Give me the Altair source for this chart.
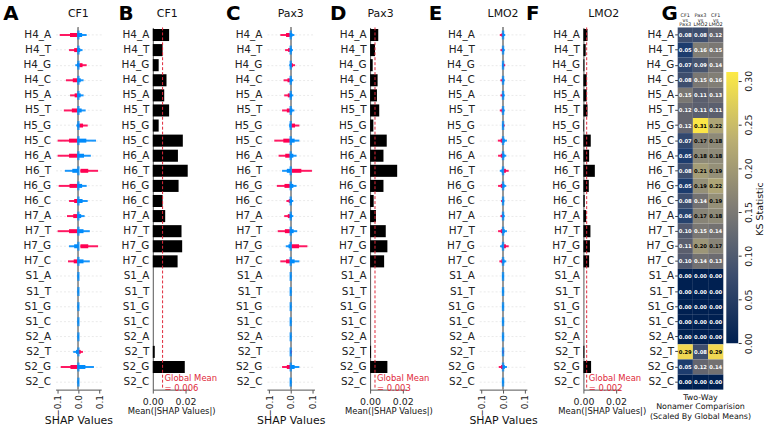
import altair as alt
import pandas as pd

FONT = "DejaVu Sans"
RED = "#ff0052"
BLUE = "#008bfb"
MEANRED = "#e0283a"
H = 365

features = ["H4_A", "H4_T", "H4_G", "H4_C", "H5_A", "H5_T", "H5_G", "H5_C",
             "H6_A", "H6_T", "H6_G", "H6_C", "H7_A", "H7_T", "H7_G", "H7_C",
             "S1_A", "S1_T", "S1_G", "S1_C", "S2_A", "S2_T", "S2_G", "S2_C"]
N = None

# SHAP value extents (red = high feature value, blue = low feature value)
cf1_red_lo = [-0.090, -0.045, 0.005, -0.060, -0.040, -0.070, 0.005, -0.100, -0.100, 0.010, -0.095, -0.045,
              -0.055, -0.100, 0.010, -0.050, N, N, N, N, N, 0.002, -0.085, N]
cf1_red_hi = [-0.005, -0.005, 0.040, -0.005, -0.005, -0.005, 0.045, -0.005, -0.005, 0.095, -0.005, -0.005,
              -0.005, -0.005, 0.095, -0.005, N, N, N, N, N, 0.022, -0.005, N]
cf1_blue_lo = [-0.005, -0.005, -0.015, -0.005, -0.005, -0.005, -0.010, -0.005, -0.005, -0.065, -0.005, -0.005,
               -0.005, -0.005, -0.045, -0.005, -0.003, -0.003, -0.003, -0.003, -0.003, -0.025, -0.005, -0.003]
cf1_blue_hi = [0.040, 0.020, 0.005, 0.025, 0.025, 0.035, 0.005, 0.085, 0.060, 0.000, 0.040, 0.045,
               0.030, 0.055, 0.000, 0.055, 0.003, 0.003, 0.003, 0.003, 0.003, 0.000, 0.075, 0.003]

pax3_red_lo = [-0.048, -0.026, 0.003, -0.033, -0.030, -0.040, 0.003, -0.076, -0.056, 0.006, -0.064, -0.020,
               -0.030, -0.060, 0.004, -0.048, N, N, N, N, N, -0.002, -0.040, N]
pax3_red_hi = [-0.004, -0.004, 0.020, -0.004, -0.004, -0.004, 0.040, -0.004, -0.004, 0.098, -0.004, -0.004,
               -0.004, -0.004, 0.077, -0.004, N, N, N, N, N, 0.006, -0.002, N]
pax3_blue_lo = [-0.004, -0.004, -0.007, -0.004, -0.004, -0.004, -0.006, -0.004, -0.004, -0.040, -0.004, -0.004,
                -0.004, -0.004, -0.023, -0.004, -0.003, -0.003, -0.003, -0.003, -0.003, -0.003, 0.000, -0.003]
pax3_blue_hi = [0.017, 0.010, 0.003, 0.012, 0.012, 0.017, 0.003, 0.040, 0.027, 0.000, 0.027, 0.012,
                0.012, 0.030, 0.000, 0.040, 0.003, 0.003, 0.003, 0.003, 0.003, 0.000, 0.040, 0.003]

lmo2_red_lo = [-0.015, -0.012, 0.002, -0.012, -0.012, -0.015, 0.002, -0.024, -0.023, 0.004, -0.023, -0.009,
               -0.012, -0.023, 0.004, -0.017, N, N, N, N, N, -0.002, -0.020, N]
lmo2_red_hi = [-0.002, -0.002, 0.010, -0.002, -0.002, -0.002, 0.008, -0.002, -0.002, 0.026, -0.002, -0.002,
               -0.002, -0.002, 0.026, -0.002, N, N, N, N, N, 0.004, -0.001, N]
lmo2_blue_lo = [-0.002, -0.002, -0.004, -0.002, -0.002, -0.002, -0.003, -0.002, -0.002, -0.015, -0.002, -0.002,
                -0.002, -0.002, -0.014, -0.002, -0.003, -0.003, -0.003, -0.003, -0.003, -0.002, 0.000, -0.003]
lmo2_blue_hi = [0.010, 0.008, 0.002, 0.008, 0.008, 0.008, 0.002, 0.018, 0.015, 0.000, 0.015, 0.006,
                0.008, 0.018, 0.000, 0.015, 0.003, 0.003, 0.003, 0.003, 0.003, 0.000, 0.018, 0.003]

# Mean |SHAP| values
cf1_mean = [0.0100, 0.0060, 0.0036, 0.0084, 0.0070, 0.0100, 0.0036, 0.0184, 0.0154, 0.0214, 0.0158, 0.0060,
            0.0076, 0.0176, 0.0180, 0.0152, 0, 0, 0, 0, 0, 0.0012, 0.0196, 0]
pax3_mean = [0.0050, 0.0030, 0.0016, 0.0046, 0.0042, 0.0056, 0.0020, 0.0102, 0.0082, 0.0166, 0.0082, 0.0022,
             0.0036, 0.0096, 0.0106, 0.0086, 0, 0, 0, 0, 0, 0.0006, 0.0106, 0]
lmo2_mean = [0.0025, 0.0014, 0.0006, 0.0020, 0.0020, 0.0025, 0.0004, 0.0045, 0.0035, 0.0070, 0.0033, 0.0008,
             0.0017, 0.0043, 0.0040, 0.0035, 0, 0, 0, 0, 0, 0.0006, 0.0047, 0]
global_means = [0.006, 0.003, 0.002]

# KS statistics
comparisons = ["CF1 vs Pax3", "Pax3 vs LMO2", "CF1 vs LMO2"]
ks_cf1_pax3 = [0.08, 0.05, 0.07, 0.08, 0.15, 0.12, 0.12, 0.07, 0.05, 0.08, 0.05, 0.08,
               0.06, 0.10, 0.11, 0.10, 0.00, 0.00, 0.00, 0.00, 0.00, 0.29, 0.05, 0.00]
ks_pax3_lmo2 = [0.08, 0.16, 0.09, 0.15, 0.11, 0.11, 0.31, 0.17, 0.18, 0.21, 0.19, 0.14,
                0.17, 0.15, 0.20, 0.14, 0.00, 0.00, 0.00, 0.00, 0.00, 0.08, 0.12, 0.00]
ks_cf1_lmo2 = [0.12, 0.15, 0.14, 0.16, 0.13, 0.11, 0.22, 0.18, 0.18, 0.19, 0.22, 0.19,
               0.18, 0.14, 0.17, 0.13, 0.00, 0.00, 0.00, 0.00, 0.00, 0.29, 0.14, 0.00]
colorbar_ticks = [0.0, 0.05, 0.10, 0.15, 0.20, 0.25, 0.30]
ks_max = 0.31

cividis_stops = [(0.0, "#002051"), (0.25, "#3c4d6e"), (0.5, "#7f7c75"), (0.75, "#bbaf71"), (1.0, "#fdea45")]


def label_layers(letter, ldx, name, ndx):
    lt = alt.Chart(pd.DataFrame({"t": [letter]})).mark_text(
        fontSize=20, fontWeight="bold", align="center", baseline="middle", font=FONT, color="black"
    ).encode(text="t:N", x=alt.value(ldx), y=alt.value(-14))
    out = [lt]
    if name:
        nt = alt.Chart(pd.DataFrame({"t": [name]})).mark_text(
            fontSize=11, align="center", baseline="middle", font=FONT, color="#111111"
        ).encode(text="t:N", x=alt.value(ndx), y=alt.value(-14))
        out.append(nt)
    return out


def shap_panel(name, letter, ldx, red_lo, red_hi, blue_lo, blue_hi, width, dom):
    df = pd.DataFrame({"feature": features, "red_lo": red_lo, "red_hi": red_hi,
                       "blue_lo": blue_lo, "blue_hi": blue_hi})
    xs = alt.Scale(domain=[-dom, dom], nice=False, zero=False)
    xax = alt.Axis(values=[-0.1, 0, 0.1], format=".1f", labelAngle=270, labelAlign="right",
                   labelBaseline="middle", labelFlush=False, labelOverlap=False,
                   labelFontSize=9, labelColor="#222222", tickSize=3.5, tickColor="#555555",
                   labelPadding=1.5, domainColor="#555555", title="SHAP Values", titleFontSize=11,
                   titleFontWeight="normal", titlePadding=-2, titleColor="#111111", grid=False)
    yax = alt.Axis(title=None, domain=False, ticks=False, labelPadding=5, grid=True,
                   gridColor="#e4e4e4", gridDash=[2, 2], gridWidth=0.8, bandPosition=0.5,
                   labelFontSize=10.5, labelColor="#222222")
    ysc = alt.Scale(paddingInner=0, paddingOuter=0)

    def Y():
        return alt.Y("feature:N", sort=features, scale=ysc, axis=yax)

    def X(f):
        return alt.X(f, scale=xs, axis=xax)

    base = alt.Chart(df)
    red_t = base.mark_rule(color=RED, strokeWidth=2, opacity=0.9).encode(
        y=Y(), x=X("red_lo:Q"), x2="red_hi:Q")
    blue_t = base.mark_rule(color=BLUE, strokeWidth=2, opacity=0.9).encode(
        y=Y(), x=X("blue_lo:Q"), x2="blue_hi:Q")
    red_c = base.transform_calculate(
        clo="datum.red_hi <= 0 ? datum.red_lo * 0.45 : datum.red_lo",
        chi="datum.red_hi <= 0 ? datum.red_hi : datum.red_hi * 0.5",
    ).mark_rule(color=RED, strokeWidth=4).encode(y=Y(), x=X("clo:Q"), x2="chi:Q")
    blue_c = base.transform_calculate(
        clo="datum.blue_lo < -0.006 ? datum.blue_lo * 0.45 : datum.blue_lo",
        chi="datum.blue_lo < -0.006 ? datum.blue_hi : datum.blue_hi * 0.45",
    ).mark_rule(color=BLUE, strokeWidth=4).encode(y=Y(), x=X("clo:Q"), x2="chi:Q")
    spike = base.mark_tick(color=BLUE, thickness=2.5, size=9).encode(
        y=Y(), x=alt.X(datum=0, type="quantitative", scale=xs, axis=xax))
    zero_full = base.mark_rule(color="#999999", strokeWidth=1).encode(
        x=alt.X(datum=0, type="quantitative", scale=xs, axis=xax))
    layers = [zero_full, red_t, blue_t, red_c, blue_c, spike] + label_layers(letter, ldx, name, width / 2)
    return alt.layer(*layers).properties(width=width, height=H)


def bar_panel(name, letter, ldx, vals, gmean, width, ndx):
    df = pd.DataFrame({"feature": features, "v": vals})
    xs = alt.Scale(domain=[0, 0.0225], nice=False, zero=True)
    ysc = alt.Scale(paddingInner=0.2, paddingOuter=0.1)
    yax = alt.Axis(title=None, ticks=False, domain=True, domainColor="#555555", labelPadding=4,
                   labelFontSize=10.5, labelColor="#222222", grid=False)
    xax = alt.Axis(values=[0, 0.02], format=".2f", labelFlush=False, labelOverlap=False,
                   labelFontSize=9.5, labelColor="#222222", tickSize=3.5, tickColor="#555555",
                   labelPadding=3.5, domainColor="#555555", title="Mean(|SHAP Values|)", titleFontSize=8.5,
                   titleFontWeight="normal", titlePadding=1, titleColor="#111111", grid=False)
    bars = alt.Chart(df).mark_bar(color="black").encode(
        y=alt.Y("feature:N", sort=features, scale=ysc, axis=yax),
        x=alt.X("v:Q", scale=xs, axis=xax))
    mdf = pd.DataFrame({"m": [gmean], "feature": ["S2_C"]})
    mline = alt.Chart(mdf).mark_rule(color=MEANRED, strokeDash=[3, 2], strokeWidth=1).encode(
        x=alt.X("m:Q", scale=xs, axis=xax))
    mtext = alt.Chart(mdf).mark_text(
        text=["Global Mean", "= %.3f" % gmean], align="left", baseline="middle", dx=2, dy=-4,
        fontSize=8.5, lineHeight=10.5, color=MEANRED, font=FONT
    ).encode(x=alt.X("m:Q", scale=xs, axis=xax),
             y=alt.Y("feature:N", sort=features, scale=ysc, axis=yax))
    layers = [bars, mline, mtext] + label_layers(letter, ldx, name, width / 2 + ndx)
    return alt.layer(*layers).properties(width=width, height=H)


def heat_panel(letter, ldx, width):
    rows = []
    for comp, vals in zip(comparisons, [ks_cf1_pax3, ks_pax3_lmo2, ks_cf1_lmo2]):
        for f, v in zip(features, vals):
            rows.append({"feature": f, "comp": comp, "ks": v})
    df = pd.DataFrame(rows)
    xsc = alt.Scale(paddingInner=0, paddingOuter=0)
    ysc = alt.Scale(paddingInner=0, paddingOuter=0)
    xax = alt.Axis(orient="top", title=None, labelAngle=0, ticks=False, domain=False,
                   labelFontSize=5, labelLineHeight=4.6, labelPadding=10,
                   labelExpr="split(datum.label, ' ')", labelColor="#222222")
    yax = alt.Axis(title=None, domain=False, ticks=True, tickSize=3, tickColor="#444444",
                   labelPadding=1, labelFontSize=10.5, labelColor="#222222")
    xenc = alt.X("comp:N", sort=comparisons, scale=xsc, axis=xax)
    yenc = alt.Y("feature:N", sort=features, scale=ysc, axis=yax)
    base = alt.Chart(df)
    cells = base.mark_rect().encode(
        x=xenc, y=yenc,
        color=alt.Color("ks:Q", scale=alt.Scale(scheme="cividis", domain=[0, ks_max]), legend=None))
    txt = base.mark_text(fontSize=5.3, fontWeight="bold", font=FONT).encode(
        x=xenc, y=yenc,
        text=alt.Text("ks:Q", format=".2f"),
        color=alt.condition(alt.datum.ks >= 0.165, alt.value("black"), alt.value("white")))
    bottom = alt.Chart(pd.DataFrame({"t": [0]})).mark_text(
        text=["Two-Way", "Nonamer Comparision", "(Scaled By Global Means)"],
        fontSize=8, lineHeight=9.8, align="center", baseline="top", font=FONT, color="#111111"
    ).encode(x=alt.value(width / 2), y=alt.value(H + 4))
    layers = [cells, txt, bottom] + label_layers(letter, ldx, None, 0)
    return alt.layer(*layers).properties(width=width, height=H)


def colorbar(width):
    df = pd.DataFrame({"lo": [0.0], "hi": [ks_max]})
    grad = alt.LinearGradient(
        gradient="linear",
        stops=[alt.GradientStop(color=c, offset=o) for o, c in cividis_stops],
        x1=0, x2=0, y1=1, y2=0)
    return alt.Chart(df).mark_rect(color=grad).encode(
        x=alt.value(0), x2=alt.value("width"),
        y=alt.Y("lo:Q", scale=alt.Scale(domain=[-0.053, 0.361], nice=False, zero=False),
                axis=alt.Axis(orient="right", values=colorbar_ticks, format=".2f", labelAngle=270,
                              labelAlign="center", labelBaseline="top", domain=False, tickSize=3,
                              tickColor="#333333", labelPadding=2, labelFontSize=9.5, labelColor="#222222",
                              labelFlush=False, labelOverlap=False, grid=False,
                              title="KS Statistic", titleAngle=270, titleBaseline="top",
                              titleFontSize=9.5, titleFontWeight="normal", titlePadding=2,
                              titleColor="#111111")),
        y2="hi:Q").properties(width=width, height=H)


def spacer(w):
    return alt.Chart(pd.DataFrame({"a": [0]})).mark_point(opacity=0).properties(width=w, height=H)


pA = shap_panel("CF1", "A", -45, cf1_red_lo, cf1_red_hi, cf1_blue_lo, cf1_blue_hi, 46, 0.11)
pB = bar_panel("CF1", "B", -27, cf1_mean, global_means[0], 37, -4)
pC = shap_panel("Pax3", "C", -34, pax3_red_lo, pax3_red_hi, pax3_blue_lo, pax3_blue_hi, 48, 0.11)
pD = bar_panel("Pax3", "D", -32, pax3_mean, global_means[1], 37, -8)
pE = shap_panel("LMO2", "E", -44, lmo2_red_lo, lmo2_red_hi, lmo2_blue_lo, lmo2_blue_hi, 48, 0.11)
pF = bar_panel("LMO2", "F", -51, lmo2_mean, global_means[2], 37, 2)
pG = heat_panel("G", -8, 46)
pCB = colorbar(12)

chart = alt.hconcat(
    pA, spacer(46), pB, spacer(72), pC, spacer(50), pD, spacer(67), pE, spacer(51), pF, spacer(52), pG, pCB,
    spacing=3, bounds="flush"
).properties(
    padding={"left": 3, "top": 2, "right": 0, "bottom": 0}
).configure(font=FONT).configure_view(stroke=None)

chart.save("out.html", embed_options={"renderer": "svg", "actions": False})
